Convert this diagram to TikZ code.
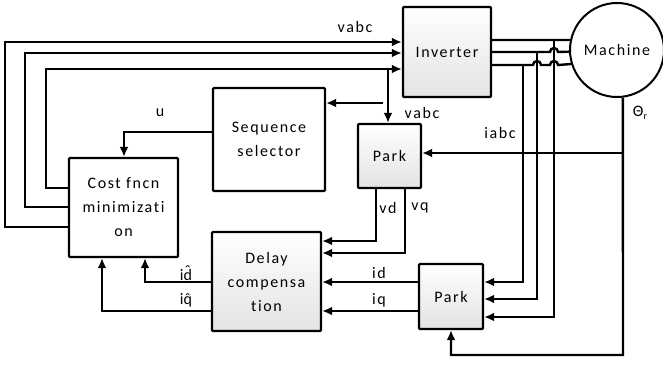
\documentclass[tikz,border=0pt]{standalone}
\usepackage{fontspec}
\setmainfont{Carlito}[LetterSpace=10,Ligatures=NoCommon]
\usetikzlibrary{arrows.meta}
\newcommand{\hatch}[1]{\accent"02C6 #1}

\begin{document}
\begin{tikzpicture}[x=1pt,y=-1pt]
\tikzstyle{bx} = [draw=black,line width=2.4pt,rectangle,rounded corners=1pt,align=center,font=\fontsize{16}{24}\selectfont] %block
\tikzstyle{sh} = [bx,top color=white,bottom color=gray!22] %shaded block
\tikzstyle{ln} = [line width=2.4pt] %plain line
\tikzstyle{ar} = [ln,-{Latex[length=10pt,width=9pt]}] %arrow
\tikzstyle{lb} = [font=\fontsize{16}{18}\selectfont,inner sep=0pt] %label
\useasboundingbox (0,0) rectangle (663,367);
% blocks
\node[sh,minimum width=88,minimum height=90](inv)at(447,52){Inverter};
\node[bx,draw,circle,line width=2pt,minimum size=94](mach)at(617,50){Machine};
\node[bx,minimum width=112,minimum height=103](seq)at(269,139.5){Sequence\\selector};
\node[bx,minimum width=109,minimum height=99](cost)at(123.5,207.5){Cost fncn\\minimizati\\on};
\node[sh,minimum width=63,minimum height=64](pka)at(389.5,156){Park};
\node[sh,minimum width=109,minimum height=99](dly)at(266.5,281.5){Delay\\compensa\\tion};
\node[sh,minimum width=64,minimum height=65](pkb)at(451,296.5){Park};
% switching signals to the inverter
\draw[ar] (cost.west |- 0,227) -- (5,227) -- (5,42) -- (inv.west |- 0,42);
\draw[ar] (cost.west |- 0,207) -- (25,207) -- (25,53) -- (inv.west |- 0,53);
\draw[ar] (cost.west |- 0,188) -- (46,188) -- (46,69) -- (inv.west |- 0,69);
\coordinate (vt) at (388,69);
\draw[ar] (vt) -- (pka.north -| vt);
\draw[ar] (383,103) -- (seq.east |- 0,103);
\draw[ar] (seq.west |- 0,132) -- (124,132) -- (cost.north -| 124,0);
% phases to the machine
\draw[ln] (inv.east |- 0,40) -- (mach.168);
\draw[ln] (inv.east |- 0,52) -- (550,52) arc (180:360:4) -- (mach.182);
\draw[ln] (inv.east |- 0,65) -- (533,65) arc (180:360:4) -- (550,65) arc (180:360:4) -- (mach.197);
\coordinate (ia) at (523,65);
\coordinate (ib) at (537,52);
\coordinate (ic) at (554,40);
\draw[ar] (ia) |- (pkb.east |- 0,282);
\draw[ar] (ib) |- (pkb.east |- 0,299);
\draw[ar] (ic) |- (pkb.east |- 0,317);
% rotor angle
\coordinate (th) at (623,355);
\draw[ar] (mach.-83) -- (th) -| (pkb.south);
\draw[ar] (623,153) -- (pka.east |- 0,153);
% dq signals
\draw[ar] (pka.south -| 376,0) |- (dly.east |- 0,241);
\draw[ar] (pka.south -| 405,0) |- (dly.east |- 0,253);
\draw[ar] (pkb.west |- 0,282) -- (dly.east |- 0,282);
\draw[ar] (pkb.west |- 0,311) -- (dly.east |- 0,311);
\draw[ar] (dly.west |- 0,282) -| (cost.south -| 145,0);
\draw[ar] (dly.west |- 0,311) -| (cost.south -| 102,0);
% labels
\node[lb](l1)at(355,27){vabc};
\node[lb](l2)at(160,113){u};
\node[lb](l3)at(422,113){vabc};
\node[lb](l4)at(500,133){iabc};
\node[lb](l5)at(640,113){Θ\raisebox{-0.35ex}{\fontsize{10}{10}\selectfont r}};
\node[lb](l6)at(388,208){vd};
\node[lb](l7)at(420,208){vq};
\node[lb](l8)at(186,273){i\hatch{d}};
\node[lb](l9)at(186,300){i\hatch{q}};
\node[lb](l10)at(379,273){id};
\node[lb](l11)at(379,300){iq};
\end{tikzpicture}
\end{document}
